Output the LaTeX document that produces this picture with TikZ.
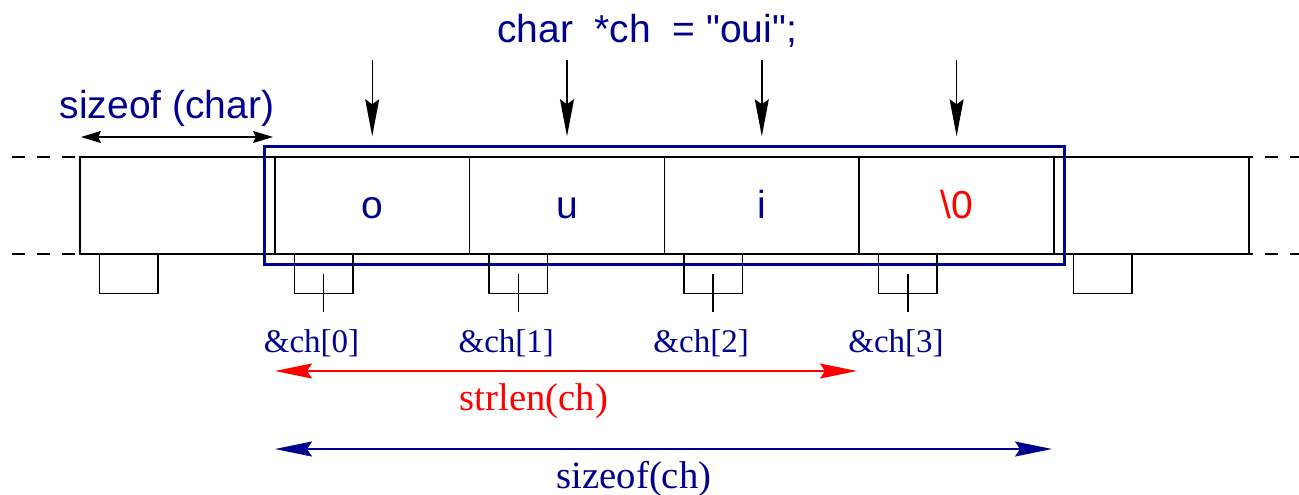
\documentclass[tikz,border=0pt]{standalone}
\usepackage{fontspec}
\setmainfont{Liberation Serif}
\newfontfamily\hv{Liberation Sans}
\usetikzlibrary{arrows.meta,fit,calc}
\definecolor{navy}{RGB}{0,0,144}
\begin{document}
\begin{tikzpicture}[x=0.5pt,y=-0.5pt,
  cellbox/.style={draw, line width=0.75pt, inner sep=0pt, minimum width=97.4pt, minimum height=48.5pt, text height=12.5pt, text depth=0pt, font=\hv\fontsize{19.5}{23}\selectfont, text=navy},
  smallbox/.style={draw, line width=0.75pt, inner sep=0pt, minimum width=29.25pt, minimum height=19.65pt},
  tickline/.style={line width=0.75pt},
  guide/.style={line width=0.75pt, dash pattern=on 6.5pt off 6pt},
  addr/.style={text=navy, font=\fontsize{16.5}{20}\selectfont, anchor=base, inner sep=0pt},
  sanslabel/.style={text=navy, font=\hv\fontsize{19.5}{23}\selectfont, anchor=base, inner sep=0pt},
  seriflabel/.style={font=\fontsize{19.35}{23}\selectfont, anchor=base, inner sep=0pt},
  downarrow/.style={line width=0.7pt, -{Stealth[length=18.5pt,width=7pt,inset=2.5pt]}, shorten >=10pt},
  smallarrow/.style={line width=0.7pt, {Stealth[length=10pt,width=6pt,inset=1.5pt]}-{Stealth[length=10pt,width=6pt,inset=1.5pt]}},
  measarrow/.style={line width=1pt, {Stealth[length=18.5pt,width=7.5pt,inset=2.5pt]}-{Stealth[length=18.5pt,width=7.5pt,inset=2.5pt]}}
]
\useasboundingbox (0,0) rectangle (1299,494);

% dashed guide lines
\draw[guide] (12,157) -- (130,157);
\draw[guide] (12,254) -- (130,254);
\draw[guide] (1190,157) -- (1299,157);
\draw[guide] (1190,254) -- (1299,254);

% memory cells
\node[cellbox] (c0) at (177.4,205.5) {};
\node[cellbox] (c1) at (372.2,205.5) {o};
\node[cellbox] (c2) at (567.0,205.5) {u};
\node[cellbox] (c3) at (761.8,205.5) {i};
\node[cellbox, text=red] (c4) at (956.6,205.5) {\textbackslash 0};
\node[cellbox] (c5) at (1151.4,205.5) {};

% string frame
\node[draw=navy, line width=1.5pt, inner sep=5pt, fit=(c1)(c4)] (str) {};

% small address boxes
\node[smallbox] (s0) at (128.75,273.65) {};
\node[smallbox] (s1) at (323.55,273.65) {};
\node[smallbox] (s2) at (518.35,273.65) {};
\node[smallbox] (s3) at (713.15,273.65) {};
\node[smallbox] (s4) at (907.95,273.65) {};
\node[smallbox] (s5) at (1102.75,273.65) {};

% ticks and address labels
\coordinate (e1) at (323.55,312);
\coordinate (e2) at (518.35,312);
\coordinate (e3) at (713.15,312);
\coordinate (e4) at (907.95,312);
\draw[tickline] (s1.center) -- (e1);
\draw[tickline] (s2.center) -- (e2);
\draw[tickline] (s3.center) -- (e3);
\draw[tickline] (s4.center) -- (e4);
\node[addr] (a0) at (311.5,352) {\&ch[0]};
\node[addr] (a1) at (506.3,352) {\&ch[1]};
\node[addr] (a2) at (701.1,352) {\&ch[2]};
\node[addr] (a3) at (896.0,352) {\&ch[3]};

% title and down arrows
\node[sanslabel] (title) at (647,42) {char\ \ *ch\ \ = "oui";};
\coordinate (p1) at (372.2,60);
\coordinate (p2) at (567.0,60);
\coordinate (p3) at (761.8,60);
\coordinate (p4) at (956.6,60);
\draw[downarrow] (p1) -- (c1.north);
\draw[downarrow] (p2) -- (c2.north);
\draw[downarrow] (p3) -- (c3.north);
\draw[downarrow] (p4) -- (c4.north);

% sizeof(char)
\node[sanslabel] (szc) at (167,118) {sizeof (char)};
\coordinate (q0) at (81,137);
\coordinate (q1) at (273,137);
\draw[smallarrow] (q0) -- (q1);

% strlen(ch)
\coordinate (r0) at (275,371);
\coordinate (r1) at (857,371);
\draw[measarrow, red] (r0) -- (r1);
\node[seriflabel, text=red] (sl) at (534,410) {strlen(ch)};

% sizeof(ch)
\coordinate (b0) at (275,449);
\coordinate (b1) at (1052,449);
\draw[measarrow, navy] (b0) -- (b1);
\node[seriflabel, text=navy] (sz) at (634,488) {sizeof(ch)};
\end{tikzpicture}
\end{document}
